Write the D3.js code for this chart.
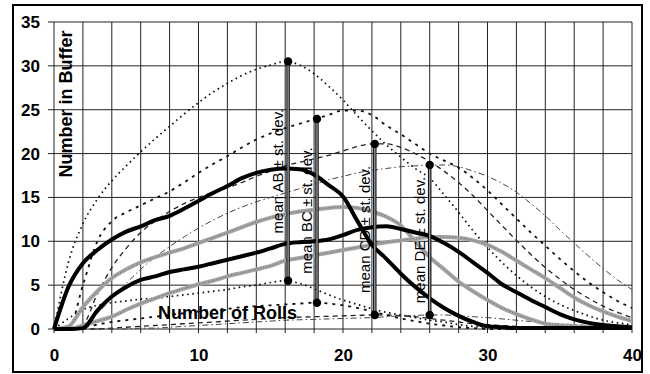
<!DOCTYPE html>
<html lang="en">
    <head>
        <meta charset="utf-8">
        <title>Number in Buffer vs Number of Rolls</title>
        <script src="https://d3js.org/d3.v7.min.js"></script>
        <style type="text/css">
            body {
                margin: 0;
                background: white;
            }
            .tick text {
                font-family: "Liberation Sans", Arial, sans-serif;
                font-size: 17px;
                font-weight: bold;
                fill: black;
            }
            .grid line {
                stroke: #222;
                stroke-width: 1;
            }
            .title {
                font-family: "Liberation Sans", Arial, sans-serif;
                font-size: 18px;
                font-weight: bold;
            }
            .stemlabel {
                font-family: "Liberation Sans", Arial, sans-serif;
                font-size: 15px;
            }
        </style>
    </head>
    <body>
        <script type="text/javascript">

            const w = 650;
            const h = 374;

            //number of rolls (x)
            const rolls = [0,1,2,3,4,5,6,7,8,9,10,11,12,13,14,15,16,17,18,19,20,
                           21,22,23,24,25,26,27,28,29,30,31,32,33,34,35,36,37,38,39,40];

            //means
            const meanAB = [0,4.8,7.5,9.0,10.2,11.1,11.7,12.4,12.9,13.7,14.6,15.5,16.3,17.2,17.8,18.15,18.3,18.2,17.6,16.4,15.1,
                            12.3,9.6,8.0,6.3,4.8,3.5,2.4,1.5,0.8,0.3,0.2,0.1,0.1,0.1,0.1,0.1,0.1,0.1,0.1,0.1];
            const meanBC = [0,0.3,2.5,4.3,5.8,6.8,7.6,8.2,8.7,9.2,9.8,10.4,11.0,11.6,12.2,12.7,13.1,13.4,13.6,13.8,13.9,
                            13.8,13.4,12.8,11.8,10.0,8.2,6.8,5.4,4.3,3.3,2.4,1.7,1.1,0.6,0.4,0.3,0.2,0.2,0.1,0.1];
            const meanCD = [0,0,0.1,2.1,3.7,4.8,5.6,6.0,6.5,6.8,7.1,7.5,7.9,8.3,8.7,9.2,9.7,9.9,10.0,10.2,10.7,
                            11.3,11.6,11.7,11.4,11.0,10.6,9.8,8.8,7.6,6.4,5.1,4.2,3.3,2.5,1.7,1.1,0.7,0.45,0.3,0.2];
            const meanDE = [0,0,0.4,0.9,1.4,2.2,2.9,3.5,4.1,4.6,5.1,5.5,6.0,6.4,6.8,7.2,7.8,8.1,8.4,8.7,9.0,
                            9.3,9.6,9.9,10.1,10.3,10.5,10.5,10.4,10.1,9.6,8.8,7.8,6.8,5.8,4.7,3.6,2.7,2.0,1.4,0.9];

            //mean + st. dev.
            const upAB = [0,7.6,12.0,14.8,16.9,18.6,20.2,21.7,23.1,24.5,25.8,27.0,28.0,28.9,29.6,30.1,30.5,30.1,29.1,27.7,26.1,
                          24.3,22.6,21.0,19.6,18.3,17.2,15.3,13.3,11.2,9.3,7.6,6.1,4.8,3.7,2.8,2.1,1.5,1.0,0.7,0.5];
            const upBC = [0,0,5.0,10.0,12.3,13.3,14.1,14.9,15.7,16.7,17.8,18.8,19.7,20.7,21.6,22.3,22.9,23.4,23.9,24.4,24.9,
                          24.9,24.4,23.2,22.2,21.1,20.0,19.2,18.4,17.2,15.8,14.2,12.6,11.0,9.5,8.0,6.6,5.3,4.2,3.2,2.4];
            const upCD = [0,0,0.5,4.0,7.0,9.2,11.0,12.3,13.4,14.3,15.0,15.6,16.1,16.7,17.4,18.0,18.6,19.0,19.4,19.8,20.3,
                          20.8,21.1,21.1,20.7,20.0,19.1,18.0,16.7,15.2,13.5,11.8,10.1,8.5,7.0,5.7,4.5,3.5,2.6,1.9,1.3];
            const upDE = [0,0,0.5,1.8,3.5,5.2,6.8,8.2,9.4,10.5,11.5,12.4,13.2,13.9,14.5,15.0,15.5,16.0,16.5,17.0,17.4,
                          17.8,18.1,18.3,18.5,18.6,18.7,18.7,18.5,18.0,17.4,16.6,15.6,14.3,12.9,11.3,9.8,8.3,6.9,5.6,4.5];

            //mean - st. dev.
            const loAB = [0,1.2,2.2,2.7,3.0,3.2,3.4,3.5,3.7,3.9,4.1,4.3,4.5,4.8,5.0,5.3,5.5,5.2,4.6,3.9,3.3,
                          2.8,2.3,1.9,1.6,1.3,1.0,0.8,0.5,0.3,0.2,0.1,0.1,0,0,0,0,0,0,0,0];
            const loBC = [0,0,0.2,0.5,0.8,1.0,1.2,1.4,1.6,1.8,2.0,2.2,2.3,2.5,2.6,2.7,2.8,2.9,3.0,2.9,2.7,
                          2.4,2.0,1.6,1.2,0.9,0.6,0.4,0.2,0.1,0,0,0,0,0,0,0,0,0,0,0];
            const loCD = [0,0,0,0,0.1,0.2,0.3,0.4,0.5,0.6,0.7,0.8,0.9,1.0,1.1,1.2,1.3,1.35,1.4,1.45,1.5,
                          1.55,1.6,1.6,1.5,1.4,1.2,1.0,0.8,0.6,0.5,0.4,0.3,0.2,0.2,0.1,0.1,0.1,0,0,0];
            const loDE = [0,0,0,0,0,0,0.1,0.1,0.2,0.3,0.4,0.5,0.6,0.7,0.8,0.9,1.0,1.05,1.1,1.15,1.2,
                          1.25,1.3,1.4,1.5,1.55,1.6,1.6,1.5,1.4,1.3,1.15,1.0,0.85,0.7,0.6,0.5,0.4,0.3,0.25,0.2];

            //mean +- st. dev. markers
            const stemLabels = ["mean AB \u00b1 st. dev.", "mean BC \u00b1 st. dev.", "mean CD \u00b1 st. dev.", "mean DE \u00b1 st. dev."];
            const stemX = [16.2, 18.2, 22.2, 26.0];
            const stemMean = [18.0, 13.5, 11.35, 10.15];
            const stemLow = [5.5, 3.0, 1.6, 1.6];
            const stemHigh = [30.5, 23.95, 21.1, 18.7];

            const xTicks = [0, 10, 20, 30, 40];
            const yTicks = [0, 5, 10, 15, 20, 25, 30, 35];

            //scales
            const xScale = d3.scaleLinear()
                             .domain([0, 40])
                             .range([54, 632]);

            const yScale = d3.scaleLinear()
                             .domain([0, 35])
                             .range([329, 22]);

            const svg = d3.select("body")
                    .append("svg")
                    .attr("width", w)
                    .attr("height", h);

            //outer frame
            svg.append("rect")
               .attr("x", 13).attr("y", 5)
               .attr("width", 629).attr("height", 367)
               .attr("fill", "white")
               .attr("stroke", "black")
               .attr("stroke-width", 2);

            //gridlines
            const grid = svg.append("g").attr("class", "grid");
            grid.selectAll(".hline")
                .data(yTicks)
                .join("line")
                .attr("x1", xScale(0) - 6).attr("x2", xScale(40))
                .attr("y1", d => yScale(d)).attr("y2", d => yScale(d));
            grid.selectAll(".vline")
                .data(d3.range(0, 41, 2))
                .join("line")
                .attr("x1", d => xScale(d)).attr("x2", d => xScale(d))
                .attr("y1", yScale(35)).attr("y2", yScale(0) + 4)
                .attr("stroke", (d, i) => i % 3 == 2 ? "#777" : "#222");

            //axes (labels only)
            const bottomAxis = d3.axisBottom(xScale)
                                 .tickValues(xTicks)
                                 .tickSize(0)
                                 .tickPadding(20);
            svg.append("g")
               .attr("transform", "translate(0," + yScale(0) + ")")
               .call(bottomAxis)
               .call(g => g.select(".domain").remove());

            const leftAxis = d3.axisLeft(yScale)
                               .tickValues(yTicks)
                               .tickSize(0)
                               .tickPadding(14);
            svg.append("g")
               .attr("transform", "translate(" + xScale(0) + ",0)")
               .call(leftAxis)
               .call(g => g.select(".domain").remove());

            //lines
            const line = d3.line()
                .x((d, i) => xScale(rolls[i]))
                .y(d => yScale(d))
                .curve(d3.curveMonotoneX);

            const sdStyles = [
                {up: upAB, lo: loAB, dash: "1.6 3.6", width: 1.7, color: "#111"},
                {up: upBC, lo: loBC, dash: "3 5", width: 1.8, color: "#111"},
                {up: upCD, lo: loCD, dash: "5 4", width: 1.3, color: "#222"},
                {up: upDE, lo: loDE, dash: "6 3 1.5 3", width: 1, color: "#444"}
            ];

            sdStyles.forEach(s => {
                [s.up, s.lo].forEach(series => {
                    svg.append("path")
                       .datum(series)
                       .attr("d", line)
                       .attr("fill", "none")
                       .attr("stroke", s.color)
                       .attr("stroke-width", s.width)
                       .attr("stroke-dasharray", s.dash);
                });
            });

            //gray means
            [meanBC, meanDE].forEach(series => {
                svg.append("path")
                   .datum(series)
                   .attr("d", line)
                   .attr("fill", "none")
                   .attr("stroke", "#a4a4a4")
                   .attr("stroke-width", 4);
                svg.append("path")
                   .datum(series)
                   .attr("d", line)
                   .attr("fill", "none")
                   .attr("stroke", "#6a6a6a")
                   .attr("stroke-width", 1)
                   .attr("stroke-dasharray", "1 2");
            });

            //black means
            [meanAB, meanCD].forEach(series => {
                svg.append("path")
                   .datum(series)
                   .attr("d", line)
                   .attr("fill", "none")
                   .attr("stroke", "black")
                   .attr("stroke-width", 4)
                   .attr("stroke-linejoin", "round");
            });

            //stems
            const stems = svg.append("g");
            stemX.forEach((x, i) => {
                const g = stems.append("g");
                g.append("line")
                 .attr("x1", xScale(x)).attr("x2", xScale(x))
                 .attr("y1", yScale(stemLow[i])).attr("y2", yScale(stemHigh[i]))
                 .attr("stroke", "#111").attr("stroke-width", 3.5);
                g.append("line")
                 .attr("x1", xScale(x)).attr("x2", xScale(x))
                 .attr("y1", yScale(stemLow[i])).attr("y2", yScale(stemHigh[i]))
                 .attr("stroke", "#aaa").attr("stroke-width", 1.2);
                g.selectAll("circle")
                 .data([stemLow[i], stemHigh[i]])
                 .join("circle")
                 .attr("cx", xScale(x))
                 .attr("cy", d => yScale(d))
                 .attr("r", 4.2)
                 .attr("fill", "black");
                g.append("text")
                 .attr("class", "stemlabel")
                 .attr("transform", "translate(" + (xScale(x) - 10) + "," + yScale(stemMean[i]) + ") rotate(-90)")
                 .attr("text-anchor", "middle")
                 .attr("dy", "0.35em")
                 .text(stemLabels[i]);
            });

            //axis titles
            svg.append("text")
               .attr("class", "title")
               .attr("transform", "translate(66,104) rotate(-90)")
               .attr("text-anchor", "middle")
               .attr("dy", "0.35em")
               .text("Number in Buffer");

            svg.append("text")
               .attr("class", "title")
               .attr("x", 158)
               .attr("y", 319)
               .text("Number of Rolls");

        </script>
    </body>
</html>
